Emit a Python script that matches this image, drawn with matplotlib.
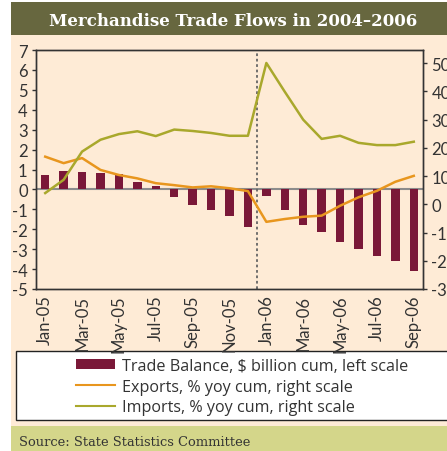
import matplotlib
matplotlib.use("Agg")
import matplotlib.pyplot as plt
from matplotlib.patches import Rectangle, Patch
from matplotlib.lines import Line2D
import numpy as np

months = ['Jan-05', 'Feb-05', 'Mar-05', 'Apr-05', 'May-05', 'Jun-05', 'Jul-05',
          'Aug-05', 'Sep-05', 'Oct-05', 'Nov-05', 'Dec-05', 'Jan-06', 'Feb-06',
          'Mar-06', 'Apr-06', 'May-06', 'Jun-06', 'Jul-06', 'Aug-06', 'Sep-06']
trade_balance = [0.70, 0.90, 0.85, 0.80, 0.78, 0.35, 0.15, -0.38, -0.78, -1.04,
                 -1.34, -1.90, -0.33, -1.04, -1.80, -2.15, -2.65, -2.97, -3.32,
                 -3.61, -4.11]
exports = [16.9, 14.6, 16.4, 12.2, 10.4, 9.2, 7.5, 6.8, 6.0, 6.4, 5.7, 4.7,
           -6.2, -5.2, -4.4, -4.0, -0.5, 2.5, 4.8, 8.0, 10.1]
imports = [4.0, 8.7, 18.7, 22.9, 24.9, 25.9, 24.2, 26.5, 26.0, 25.3, 24.3, 24.3,
           50.1, 39.9, 30.0, 23.2, 24.3, 21.8, 21.0, 21.0, 22.2]
left_ticks = list(range(-5, 8))
right_ticks = list(range(-30, 51, 10))
legend_labels = ['Trade Balance, $ billion cum, left scale',
                 'Exports, % yoy cum, right scale',
                 'Imports, % yoy cum, right scale']
title = 'Merchandise Trade Flows in 2004\u20132006'
source = 'Source: State Statistics Committee'

PEACH = '#FEEBD6'
OLIVE = '#67673F'
SOURCE_BG = '#D4D68A'
MAROON = '#7A1838'
ORANGE = '#E8961E'
GREEN = '#A9A82C'
TXT = '#333333'

plt.rcParams['axes.unicode_minus'] = False
plt.rcParams['font.family'] = ['Lato', 'DejaVu Sans']

W, H = 447, 452
fig = plt.figure(figsize=(W / 100, H / 100), dpi=100)
fig.patch.set_facecolor('white')

def fr(x0, y0, x1, y1, **kw):
    fig.add_artist(Rectangle((x0 / W, 1 - y1 / H), (x1 - x0) / W, (y1 - y0) / H,
                             transform=fig.transFigure, **kw))

fr(11, 3, 460, 460, facecolor=PEACH, edgecolor='none', zorder=-10)
fr(11, 3, 460, 36, facecolor=OLIVE, edgecolor='none', zorder=-9)
fr(11, 427, 460, 460, facecolor=SOURCE_BG, edgecolor='none', zorder=-9)
fr(16, 352, 470, 421, facecolor='white', edgecolor='#222222', linewidth=1.0, zorder=-8)

fig.text(233 / W, 1 - 22 / H, title, ha='center', va='center', color='white',
         fontsize=12, fontweight='bold', family='DejaVu Serif')
fig.text(19 / W, 1 - 443 / H, source, ha='left', va='center', color=TXT,
         fontsize=9.4, family='DejaVu Serif')

ax = fig.add_axes([36 / W, 1 - 290 / H, (423 - 36) / W, (290 - 51) / H])
ax.set_facecolor('none')
x = np.arange(len(months))
ax.bar(x, trade_balance, width=0.45, color=MAROON, zorder=2)
ax.axhline(0, color='#8C8C8C', linewidth=1.5, zorder=1)
ax.axvline(11.5, color='#666666', linewidth=1.3, linestyle=(0, (1.5, 1.5)), zorder=1)
ax.set_xlim(-0.5, len(months) - 0.5)
ax.set_ylim(-5, 7)
ax.set_yticks(left_ticks)
ax.set_xticks(x[::2])
ax.set_xticklabels(months[::2], rotation=90)
ax.tick_params(axis='x', length=0, pad=4, labelsize=12, labelcolor=TXT)
ax.tick_params(axis='y', length=3, width=1, pad=3, labelsize=12, labelcolor=TXT, color=TXT)
for s in ax.spines.values():
    s.set_color(TXT)
    s.set_linewidth(1.0)

ax2 = ax.twinx()
ax2.plot(x, exports, color=ORANGE, linewidth=1.8, zorder=3)
ax2.plot(x, imports, color=GREEN, linewidth=1.8, zorder=3)
ax2.set_ylim(-30, 54.7)
ax2.set_yticks(right_ticks)
ax2.tick_params(axis='y', length=3, width=1, pad=3, labelsize=12, labelcolor=TXT, color=TXT)
for s in ax2.spines.values():
    s.set_color(TXT)
    s.set_linewidth(1.0)

handles = [Patch(facecolor=MAROON, edgecolor='none'),
           Line2D([], [], color=ORANGE, linewidth=1.5),
           Line2D([], [], color=GREEN, linewidth=1.5)]
fig.legend(handles, legend_labels, loc='upper left',
           bbox_to_anchor=(76 / W, 1 - 359 / H), bbox_transform=fig.transFigure,
           frameon=False, handlelength=2.45, handletextpad=0.4,
           labelspacing=0.28, borderpad=0, borderaxespad=0, handleheight=0.6,
           labelcolor=TXT, prop={'family': 'Open Sans', 'size': 11.6})

fig.savefig('out.png', dpi=100, facecolor='white')
